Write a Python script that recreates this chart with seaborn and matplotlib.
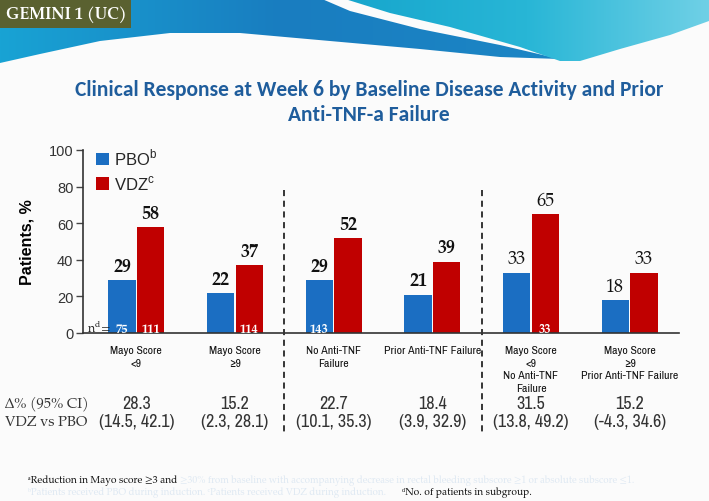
import numpy as np
import pandas as pd
import matplotlib
matplotlib.use("Agg")
import matplotlib.pyplot as plt
import seaborn as sns
from matplotlib.patches import Polygon, Rectangle
from matplotlib.colors import LinearSegmentedColormap

# ---------------- data ----------------
categories = ["Mayo Score\n<9", "Mayo Score\n≥9", "No Anti-TNF\nFailure",
              "Prior Anti-TNF Failure", "Mayo Score\n<9\nNo Anti-TNF\nFailure",
              "Mayo Score\n≥9\nPrior Anti-TNF Failure"]
pbo_values = [29, 22, 29, 21, 33, 18]
vdz_values = [58, 37, 52, 39, 65, 33]
delta_values = ["28.3", "15.2", "22.7", "18.4", "31.5", "15.2"]
ci_values = ["(14.5, 42.1)", "(2.3, 28.1)", "(10.1, 35.3)", "(3.9, 32.9)",
             "(13.8, 49.2)", "(-4.3, 34.6)"]
n_pbo = ["75", "", "143", "", "", ""]
n_vdz = ["111", "114", "", "", "33", ""]
arms = ["PBO", "VDZ"]
yticks = [0, 20, 40, 60, 80, 100]

df = pd.DataFrame({
    "group": categories * 2,
    "arm": [arms[0]] * 6 + [arms[1]] * 6,
    "value": pbo_values + vdz_values,
})

BLUE = "#1b6ec2"
RED = "#c00000"
W, H = 709, 502

sns.set_theme(style="white")
plt.rcParams["font.family"] = ["Liberation Sans", "DejaVu Sans"]
plt.rcParams["mathtext.fontset"] = "custom"

serif = ["TeX Gyre Pagella", "Liberation Serif", "DejaVu Serif"]
narrow = ["Archivo Narrow", "Liberation Sans", "DejaVu Sans"]
calibri = ["Carlito", "Lato", "DejaVu Sans"]

fig = plt.figure(figsize=(W / 100, H / 100), dpi=100, facecolor="#fbfbfb")

# ---------------- background banner ----------------
bg = fig.add_axes([0, 0, 1, 1], zorder=-5)
grad = np.linspace(0, 1, 256).reshape(1, -1)
cm1 = LinearSegmentedColormap.from_list("b1", ["#18a3d4", "#197dc0", "#1c86c5"])
cm2 = LinearSegmentedColormap.from_list("b2", ["#17a6cd", "#28b6d6", "#6fd0e6"])
left_pts = [(0, 0), (322, 0), (350, 12), (420, 30), (500, 46), (560, 60),
            (500, 58), (420, 50), (330, 42), (240, 34), (170, 34), (100, 42),
            (40, 55), (0, 64)]
im1 = bg.imshow(grad, extent=[0, 560, 64, 0], cmap=cm1, aspect="auto", zorder=0)
right_pts = [(345, 0), (709, 0), (709, 22), (670, 36), (620, 50), (580, 62),
             (560, 62), (520, 48), (450, 28), (390, 14)]
im2 = bg.imshow(grad, extent=[345, 709, 64, 0], cmap=cm2, aspect="auto", zorder=0)
bg.set_xlim(0, W)
bg.set_ylim(H, 0)
bg.axis("off")
im1.set_clip_path(Polygon(left_pts, closed=True, transform=bg.transData))
im2.set_clip_path(Polygon(right_pts, closed=True, transform=bg.transData))
bg.add_patch(Rectangle((0, 0), 131, 29, facecolor="#5a6130", edgecolor="none", zorder=2))
bg.text(6, 15, "GEMINI 1 (UC)", color="white", fontsize=11.5, fontweight="bold",
        family=serif, va="center", ha="left", zorder=3)

# ---------------- title ----------------
for yy, line in [(90, "Clinical Response at Week 6 by Baseline Disease Activity and Prior"),
                 (115, "Anti-TNF-a Failure")]:
    fig.text(369 / W, 1 - yy / H, line, ha="center", va="center", fontsize=15.5,
             fontweight="bold", color="#1f5d9c", family=calibri)

# ---------------- main axes ----------------
ax = fig.add_axes([83 / W, 1 - 334 / H, (679 - 83) / W, (334 - 151) / H])
ax.set_facecolor("none")
sns.barplot(data=df, x="group", y="value", hue="arm", order=categories,
            hue_order=arms, palette={"PBO": BLUE, "VDZ": RED}, saturation=1,
            width=0.58, gap=0.05, ax=ax, errorbar=None, linewidth=0)

ax.set_ylim(0, 100)
ax.set_xlim(-0.54, 5.5)
ax.set_yticks(yticks)
ax.set_yticklabels([str(v) for v in yticks], fontsize=10.5, color="#333333")
ax.set_xticks(range(len(categories)))
ax.set_xticklabels(categories, fontsize=8.5, color="#111111", family=narrow,
                   linespacing=1.3, va="top")
ax.set_xticks(np.arange(-0.5, 6.0, 1.0), minor=True)
ax.tick_params(axis="x", which="major", length=0, pad=9)
ax.tick_params(axis="x", which="minor", length=5, width=1, color="#444444", direction="out")
ax.tick_params(axis="y", length=5, width=1, color="#444444", direction="out", pad=2, left=True)
for s in ["top", "right"]:
    ax.spines[s].set_visible(False)
for s in ["left", "bottom"]:
    ax.spines[s].set_color("#333333")
    ax.spines[s].set_linewidth(1.2)
ax.set_xlabel("")
ax.set_ylabel("Patients, %", fontsize=11.5, fontweight="bold", color="black", labelpad=10)

# value labels
bold_groups = [True, True, True, True, False, False]
for cont, vals in zip(ax.containers, [pbo_values, vdz_values]):
    texts = ax.bar_label(cont, labels=[str(v) for v in vals], padding=3,
                         fontsize=13, family=serif, color="#111111")
    for t, b in zip(texts, bold_groups):
        t.set_fontweight("bold" if b else "normal")

# n values (white, inside bars)
for cont, ns in zip(ax.containers, [n_pbo, n_vdz]):
    for rect, n in zip(cont, ns):
        if n:
            ax.text(rect.get_x() + rect.get_width() / 2, 2.2, n, ha="center", va="center",
                    fontsize=9, color="white", family=serif, fontweight="bold")
ax.text(-0.5, 2.5, "n$^{\\mathregular{d}}$=", ha="left", va="center", fontsize=9,
        color="#222222", family=serif)

# dashed separators
for xs in [1.5, 3.5]:
    ax.plot([xs, xs], [78, -54], color="black", ls=(0, (4, 3)), lw=1.1, clip_on=False)

# legend
handles, _ = ax.get_legend_handles_labels()
ax.legend(handles, ["PBO$^{\\mathregular{b}}$", "VDZ$^{\\mathregular{c}}$"],
          loc="upper left", bbox_to_anchor=(0.005, 1.07), frameon=False,
          fontsize=12, handlelength=0.8, handleheight=0.8, handletextpad=0.3,
          labelspacing=0.35, borderaxespad=0.2)

# delta rows
fig.text(5 / W, 1 - 404 / H, "Δ% (95% CI)", fontsize=10.5, family=serif, color="#333333",
         ha="left", va="center")
fig.text(5 / W, 1 - 423 / H, "VDZ vs PBO", fontsize=10.5, family=serif, color="#333333",
         ha="left", va="center")
for i, (d, ci) in enumerate(zip(delta_values, ci_values)):
    ax.text(i, -38, d, ha="center", va="center", fontsize=13, family=narrow,
            color="#333333", clip_on=False)
    ax.text(i, -48, ci, ha="center", va="center", fontsize=13, family=narrow,
            color="#333333", clip_on=False)

# footnotes (unicode superscripts keep line boxes compact)
fig.text(28 / W, 1 - 481 / H, "ᵃReduction in Mayo score ≥3 and",
         fontsize=7.3, family=serif, color="#111111", ha="left", va="center")
fig.text(180 / W, 1 - 481 / H,
         "≥30% from baseline with accompanying decrease in rectal bleeding subscore ≥1 or absolute subscore ≤1.",
         fontsize=7, family=serif, color="#dfe9f3", ha="left", va="center")
fig.text(28 / W, 1 - 493 / H,
         "ᵇPatients received PBO during induction. ᶜPatients received VDZ during induction.",
         fontsize=7, family=serif, color="#dfe9f3", ha="left", va="center")
fig.text(402 / W, 1 - 493 / H, "ᵈNo. of patients in subgroup.",
         fontsize=7.3, family=serif, color="#111111", ha="left", va="center")

fig.savefig("out.png", dpi=100, facecolor=fig.get_facecolor())
